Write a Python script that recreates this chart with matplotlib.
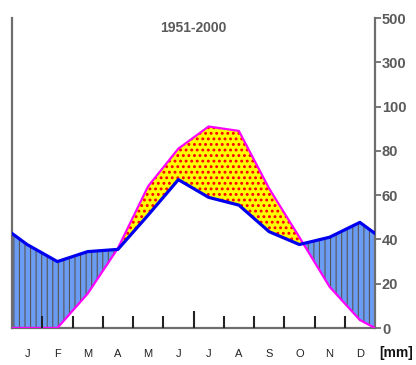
import numpy as np
import matplotlib
matplotlib.use("Agg")
import matplotlib.pyplot as plt

# ---------------------------------------------------
# DATA (monthly means, temperature already on mm scale)
# ---------------------------------------------------

months = ["J", "F", "M", "A", "M", "J", "J", "A", "S", "O", "N", "D"]
precip = [37.7, 30, 34.5, 35.5, 51, 67, 59, 55.5, 43.5, 37.7, 41, 47.7]
temp_mm = [-3.6, 0, 15.5, 36, 64, 81, 91, 89, 63, 41, 18.6, 3.6]
y_ticks = [0, 20, 40, 60, 80, 100, 300, 500]
period = "1951-2000"

plt.rcParams["font.family"] = ["Liberation Sans", "DejaVu Sans"]

grey = "#6e6e6e"
text_grey = "#5a5a5a"


def wrap(vals):
    # close the year at both edges with the Dec/Jan mean
    edge = (vals[0] + vals[-1]) / 2
    return np.concatenate([[edge], vals, [edge]])


x = np.concatenate([[0], np.arange(12) + 0.5, [12]])
p = wrap(np.array(precip, dtype=float))
t = np.clip(wrap(np.array(temp_mm, dtype=float)), 0, None)


def fwd(y):
    y = np.asarray(y, dtype=float)
    return np.where(y <= 100, y, 100 + (y - 100) / 10)


def inv(y):
    y = np.asarray(y, dtype=float)
    return np.where(y <= 100, y, 100 + (y - 100) * 10)


fig = plt.figure(figsize=(4.16, 3.65), dpi=100)
ax = fig.add_axes([12 / 416, 37 / 365, 363 / 416, 310 / 365])
ax.set_yscale("function", functions=(fwd, inv))

# humid part
plt.rcParams["hatch.linewidth"] = 0.8
ax.fill_between(x, p, t, where=p >= t, interpolate=True,
                facecolor="#6b9cf4", edgecolor="#555555",
                hatch="|||", linewidth=0, zorder=1)
# arid part
plt.rcParams["hatch.linewidth"] = 1.3
ax.fill_between(x, p, t, where=t >= p, interpolate=True,
                facecolor="#ffff00", edgecolor="#ff0000",
                hatch="...", linewidth=0, zorder=1)

ax.plot(x, t, color="#ff00ff", lw=1.6, zorder=3, solid_joinstyle="round")
ax.plot(x, p, color="#0000ee", lw=2.3, zorder=4, solid_joinstyle="round")

ax.set_xlim(0, 12)
ax.set_ylim(0, 500)

# spines
ax.spines["top"].set_visible(False)
for s in ["left", "right", "bottom"]:
    ax.spines[s].set_color(grey)
    ax.spines[s].set_linewidth(1.6)

# right axis ticks
ax.yaxis.tick_right()
ax.set_yticks(y_ticks)
ax.set_yticklabels([str(v) for v in y_ticks])
ax.yaxis.set_minor_locator(matplotlib.ticker.NullLocator())
ax.tick_params(axis="y", direction="out", length=4.5, width=1.3,
               color=grey, pad=0.5, labelsize=10.5, labelcolor=text_grey)
for lbl in ax.get_yticklabels():
    lbl.set_fontweight("bold")

# month labels
ax.set_xticks(np.arange(12) + 0.5)
ax.set_xticklabels(months)
ax.tick_params(axis="x", length=0, pad=15, labelsize=8, labelcolor="#222222")

# month boundary ticks, longer one at mid-year
sec = ax.secondary_xaxis("bottom")
sec.set_xticks([6])
sec.set_xticklabels([])
sec.set_xticks([b for b in range(1, 12) if b != 6], minor=True)
sec.tick_params(which="major", direction="in", length=12.5, width=1.5, color="#222222")
sec.tick_params(which="minor", direction="in", length=8.5, width=1.5, color="#222222")
sec.spines["bottom"].set_visible(False)
sec.set_zorder(5)

ax.text(0.5, 0.99, period, transform=ax.transAxes, ha="center", va="top",
        fontsize=10, fontweight="bold", color=text_grey)

fig.text(396 / 416, 1 - 353 / 365, "[mm]", ha="center", va="center",
         fontsize=10, fontweight="bold", color="#111111")

fig.savefig("out.png", dpi=100)
